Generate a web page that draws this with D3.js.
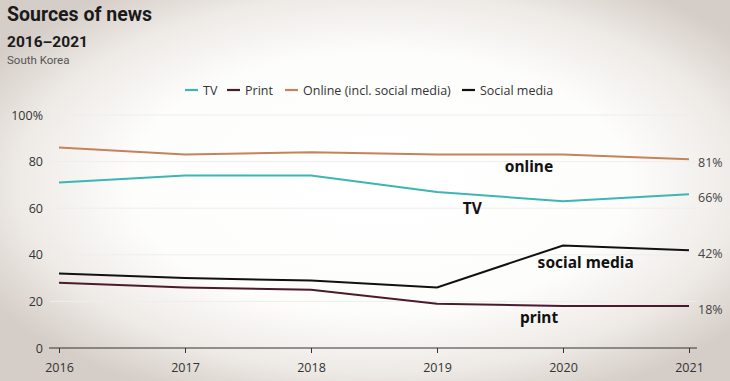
<!DOCTYPE html>
<html><head><meta charset="utf-8">
<script src="https://cdn.jsdelivr.net/npm/d3@7"></script>
<style>body{margin:0;}svg{display:block;}</style>
</head><body>
<svg id="c" width="730" height="381"></svg>
<script>
const years = [2016, 2017, 2018, 2019, 2020, 2021];
const tv = [71, 74, 74, 67, 63, 66];
const print = [28, 26, 25, 19, 18, 18];
const online = [86, 83, 84, 83, 83, 81];
const social = [32, 30, 29, 26, 44, 42];
const yTicks = [0, 20, 40, 60, 80, 100];
const seriesNames = ["TV", "Print", "Online (incl. social media)", "Social media"];
const seriesColors = ["#3cb5b5", "#4b1a2e", "#c7825a", "#111111"];
const endLabels = ["66%", "18%", "81%", "42%"];
const annotations = [
  {text: "online", year: 2019.73, value: 75.5},
  {text: "TV", year: 2019.28, value: 57.5},
  {text: "social media", year: 2020.18, value: 34.5},
  {text: "print", year: 2019.81, value: 10.8}
];

const svg = d3.select("#c");
const W = 730, H = 381;
const defs = svg.append("defs");
const rg = defs.append("radialGradient").attr("id", "bg").attr("cx", "52%").attr("cy", "48%").attr("r", "62%");
rg.append("stop").attr("offset", "0%").attr("stop-color", "#ffffff");
rg.append("stop").attr("offset", "55%").attr("stop-color", "#fdfdfc");
rg.append("stop").attr("offset", "80%").attr("stop-color", "#eeeae6");
rg.append("stop").attr("offset", "100%").attr("stop-color", "#d5cdc7");
svg.append("rect").attr("width", W).attr("height", H).attr("fill", "url(#bg)");

const x = d3.scaleLinear().domain([2016, 2021]).range([59, 689]);
const y = d3.scaleLinear().domain([0, 100]).range([348, 115]);

// title
svg.append("text").attr("x", 7).attr("y", 21).text("Sources of news")
  .attr("font-family", "Roboto, sans-serif").attr("font-weight", 700).attr("font-size", 19.5).attr("fill", "#1a1a1a");
svg.append("text").attr("x", 7).attr("y", 47).text("2016–2021")
  .attr("font-family", "Roboto, sans-serif").attr("font-weight", 700).attr("font-size", 15.5).attr("fill", "#1a1a1a");
svg.append("text").attr("x", 7).attr("y", 64).text("South Korea")
  .attr("font-family", "Roboto, sans-serif").attr("font-size", 11.5).attr("fill", "#555");

// legend
const legendX = [185, 227, 285, 462];
seriesNames.forEach((n, i) => {
  const g = svg.append("g").attr("transform", `translate(${legendX[i]},90)`);
  g.append("line").attr("x1", 0).attr("x2", 13).attr("y1", 0).attr("y2", 0)
    .attr("stroke", seriesColors[i]).attr("stroke-width", 2.2);
  g.append("text").attr("x", 18).attr("y", 4.5).text(n)
    .attr("font-family", "Open Sans, sans-serif").attr("font-size", 12.5).attr("fill", "#333");
});

// gridlines
svg.append("g").selectAll("line").data(yTicks.filter(d => d > 0)).join("line")
  .attr("x1", 50).attr("x2", 697).attr("y1", d => y(d)).attr("y2", d => y(d))
  .attr("stroke", "#eeeeee").attr("stroke-width", 1);

// y labels
svg.append("g").selectAll("text").data(yTicks).join("text")
  .attr("x", 43).attr("y", d => y(d) + 4.5).attr("text-anchor", "end")
  .text(d => d === 100 ? "100%" : d)
  .attr("font-family", "Open Sans, sans-serif").attr("font-size", 12.5).attr("fill", "#333");

// x axis
const xAxis = d3.axisBottom(x).tickValues(years).tickFormat(d3.format("d")).tickSize(5).tickSizeOuter(0);
const xg = svg.append("g").attr("transform", `translate(0,${y(0)})`).call(xAxis);
xg.select(".domain").attr("d", `M49,0H697`).attr("stroke", "#333");
xg.selectAll(".tick line").attr("stroke", "#333");
xg.selectAll(".tick text").attr("font-family", "Open Sans, sans-serif").attr("font-size", 12.5).attr("fill", "#333").attr("dy", "1.25em");

// lines
const all = [tv, print, online, social];
const line = d3.line().x((d, i) => x(years[i])).y(d => y(d));
[2, 0, 1, 3].forEach(i => {
  svg.append("path").attr("d", line(all[i])).attr("fill", "none")
    .attr("stroke", seriesColors[i]).attr("stroke-width", 2);
});

// end labels
all.forEach((s, i) => {
  svg.append("text").attr("x", 698).attr("y", y(s[s.length - 1]) + 7.5).text(endLabels[i])
    .attr("font-family", "Open Sans, sans-serif").attr("font-size", 12.5).attr("fill", "#444");
});

// annotations
annotations.forEach(a => {
  svg.append("text").attr("x", x(a.year)).attr("y", y(a.value)).attr("text-anchor", "middle").text(a.text)
    .attr("font-family", "Noto Sans, sans-serif").attr("font-weight", 700).attr("font-size", 15.5).attr("fill", "#111");
});
</script>
</body></html>
